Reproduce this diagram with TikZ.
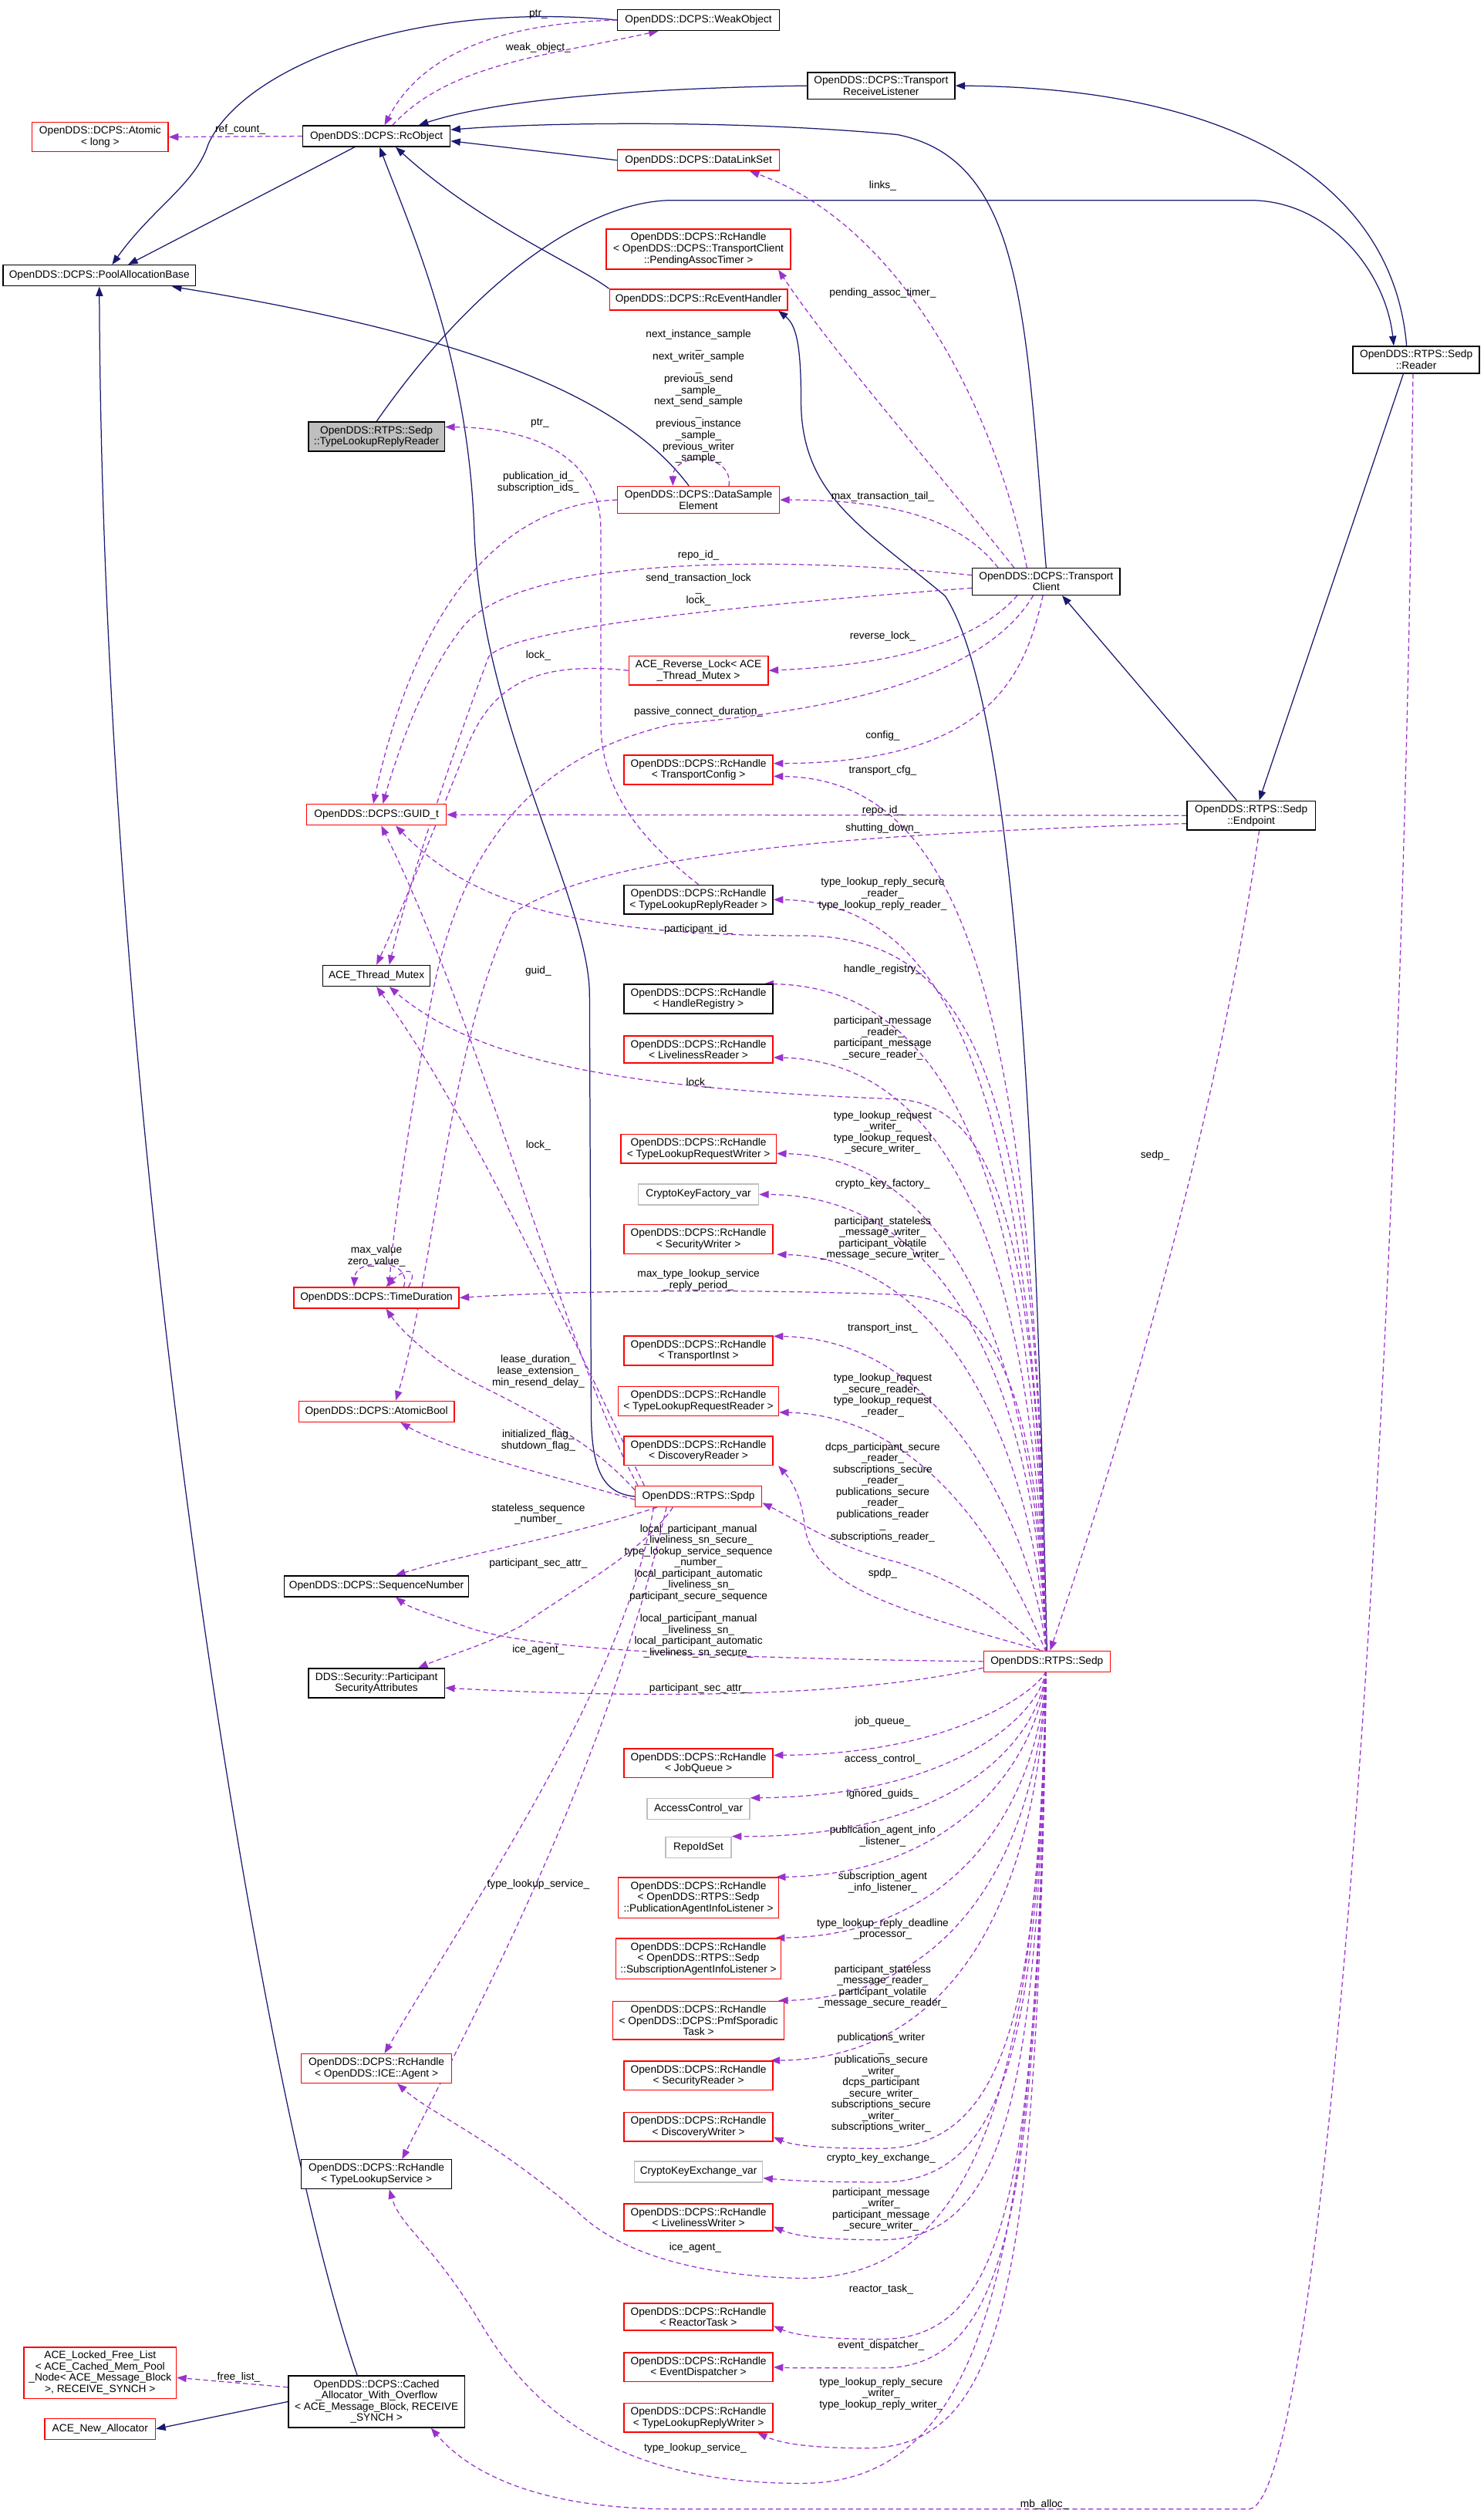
\documentclass[tikz,border=0pt]{standalone}
\usepackage{fontspec}
\setmainfont{Liberation Sans}
\usetikzlibrary{arrows.meta,calc,backgrounds}
\definecolor{navy}{RGB}{25,25,112}
\definecolor{orch}{RGB}{153,50,204}
\definecolor{lgray}{RGB}{191,191,191}
\newcommand\fnt{\fontsize{6.6}{7}\selectfont}
\tikzset{
 cls/.style={draw=black,line width=0.7pt,fill=white,align=center,inner xsep=2.5pt,inner ysep=2.5pt,minimum height=13pt,font=\fnt},
 rcls/.style={cls,draw=red},
 gcls/.style={cls,draw=lgray},
 inh/.style={navy,line width=0.6pt,-{Triangle[length=6pt,width=4.5pt]}},
 dep/.style={orch,line width=0.6pt,dash pattern=on 3pt off 2pt,-{Triangle[length=6pt,width=4.5pt]}},
 lbl/.style={align=center,font=\fnt,inner sep=0pt},
}
\newcommand\fanup[2]{\draw[dep] (653,-1031) .. controls (648,{-(#1)-140}) and (600,{-(#1)-2}) .. (#2);}
\newcommand\fandown[3]{\draw[dep] (653,-1043) .. controls (648,{-(#1)+#3}) and (595,{-(#1)}) .. (#2);}
\begin{document}
\begin{tikzpicture}[x=1pt,y=1pt]
\useasboundingbox (0,0) rectangle (926,-1571);
% nodes
\node[cls,minimum width=101pt] (weak) at (436,-12.5) {OpenDDS::DCPS::WeakObject};
\node[cls,minimum width=92pt] (trl) at (550,-53.5) {OpenDDS::DCPS::Transport\\ReceiveListener};
\node[rcls,minimum width=85pt] (atomic) at (62.5,-85.5) {OpenDDS::DCPS::Atomic\\< long >};
\node[cls,minimum width=92pt] (rcobj) at (235,-85) {OpenDDS::DCPS::RcObject};
\node[rcls,minimum width=101pt] (dls) at (436,-100) {OpenDDS::DCPS::DataLinkSet};
\node[cls,minimum width=120pt] (pab) at (62,-172) {OpenDDS::DCPS::PoolAllocationBase};
\node[rcls,minimum width=115pt] (pat) at (436,-155.5) {OpenDDS::DCPS::RcHandle\\< OpenDDS::DCPS::TransportClient\\::PendingAssocTimer >};
\node[rcls,minimum width=111pt] (reh) at (436,-187) {OpenDDS::DCPS::RcEventHandler};
\node[cls,minimum width=79pt] (reader) at (884,-224.5) {OpenDDS::RTPS::Sedp\\::Reader};
\node[cls,fill=lgray,minimum width=85pt] (tlrr) at (235,-272.5) {OpenDDS::RTPS::Sedp\\::TypeLookupReplyReader};
\node[rcls,minimum width=101pt] (dse) at (436,-312) {OpenDDS::DCPS::DataSample\\Element};
\node[cls,minimum width=92pt] (tclient) at (653,-363) {OpenDDS::DCPS::Transport\\Client};
\node[rcls,minimum width=87pt] (reverse) at (436,-418.5) {ACE\_Reverse\_Lock< ACE\\\_Thread\_Mutex >};
\node[rcls,minimum width=93pt] (tconfig) at (436,-480.5) {OpenDDS::DCPS::RcHandle\\< TransportConfig >};
\node[rcls,minimum width=87pt] (guid) at (235,-508.5) {OpenDDS::DCPS::GUID\_t};
\node[cls,minimum width=80pt] (endpoint) at (781,-509) {OpenDDS::RTPS::Sedp\\::Endpoint};
\node[cls,minimum width=93pt] (tlrrh) at (436,-561.5) {OpenDDS::DCPS::RcHandle\\< TypeLookupReplyReader >};
\node[cls,minimum width=67pt] (mutex) at (235,-609) {ACE\_Thread\_Mutex};
\node[cls,minimum width=93pt] (handlereg) at (436,-623.5) {OpenDDS::DCPS::RcHandle\\< HandleRegistry >};
\node[rcls,minimum width=93pt] (livreader) at (436,-655) {OpenDDS::DCPS::RcHandle\\< LivelinessReader >};
\node[rcls,minimum width=97pt] (tlreqwriter) at (436,-717) {OpenDDS::DCPS::RcHandle\\< TypeLookupRequestWriter >};
\node[gcls,minimum width=75pt] (cryptofactory) at (436,-745.5) {CryptoKeyFactory\_var};
\node[rcls,minimum width=93pt] (secwriter) at (436,-773.5) {OpenDDS::DCPS::RcHandle\\< SecurityWriter >};
\node[rcls,minimum width=103pt] (timedur) at (235,-810) {OpenDDS::DCPS::TimeDuration};
\node[rcls,minimum width=93pt] (tinst) at (436,-843) {OpenDDS::DCPS::RcHandle\\< TransportInst >};
\node[rcls,minimum width=100pt] (tlreqreader) at (436,-874.5) {OpenDDS::DCPS::RcHandle\\< TypeLookupRequestReader >};
\node[rcls,minimum width=97pt] (atomicbool) at (235,-881) {OpenDDS::DCPS::AtomicBool};
\node[rcls,minimum width=93pt] (discreader) at (436,-905.5) {OpenDDS::DCPS::RcHandle\\< DiscoveryReader >};
\node[rcls,minimum width=79pt] (spdp) at (436,-934) {OpenDDS::RTPS::Spdp};
\node[cls,minimum width=115pt] (seqnum) at (235,-990) {OpenDDS::DCPS::SequenceNumber};
\node[cls,minimum width=85pt] (psa) at (235,-1050.5) {DDS::Security::Participant\\SecurityAttributes};
\node[rcls,minimum width=79pt] (sedp) at (653.5,-1037) {OpenDDS::RTPS::Sedp};
\node[rcls,minimum width=93pt] (jobqueue) at (436,-1100.5) {OpenDDS::DCPS::RcHandle\\< JobQueue >};
\node[gcls,minimum width=64pt] (accessctl) at (436,-1129) {AccessControl\_var};
\node[gcls,minimum width=41pt] (repoidset) at (436,-1153) {RepoIdSet};
\node[rcls,minimum width=100pt] (pubagent) at (436,-1184.5) {OpenDDS::DCPS::RcHandle\\< OpenDDS::RTPS::Sedp\\::PublicationAgentInfoListener >};
\node[rcls,minimum width=103pt] (subagent) at (436,-1222.5) {OpenDDS::DCPS::RcHandle\\< OpenDDS::RTPS::Sedp\\::SubscriptionAgentInfoListener >};
\node[rcls,minimum width=107pt] (pmf) at (436,-1261) {OpenDDS::DCPS::RcHandle\\< OpenDDS::DCPS::PmfSporadic\\Task >};
\node[rcls,minimum width=93pt] (secreader) at (436,-1295.5) {OpenDDS::DCPS::RcHandle\\< SecurityReader >};
\node[rcls,minimum width=93pt] (discwriter) at (436,-1327.5) {OpenDDS::DCPS::RcHandle\\< DiscoveryWriter >};
\node[gcls,minimum width=80pt] (cryptoex) at (436,-1355.5) {CryptoKeyExchange\_var};
\node[rcls,minimum width=93pt] (livwriter) at (436,-1384) {OpenDDS::DCPS::RcHandle\\< LivelinessWriter >};
\node[rcls,minimum width=93pt] (reactor) at (436,-1446) {OpenDDS::DCPS::RcHandle\\< ReactorTask >};
\node[rcls,minimum width=93pt] (eventdisp) at (436,-1477.5) {OpenDDS::DCPS::RcHandle\\< EventDispatcher >};
\node[rcls,minimum width=93pt] (tlreplywriter) at (436,-1509) {OpenDDS::DCPS::RcHandle\\< TypeLookupReplyWriter >};
\node[rcls,minimum width=94pt] (ice) at (235,-1291) {OpenDDS::DCPS::RcHandle\\< OpenDDS::ICE::Agent >};
\node[cls,minimum width=94pt] (tls) at (235,-1357) {OpenDDS::DCPS::RcHandle\\< TypeLookupService >};
\node[rcls,minimum width=95pt] (freelist) at (62.5,-1481) {ACE\_Locked\_Free\_List\\< ACE\_Cached\_Mem\_Pool\\\_Node< ACE\_Message\_Block\\>, RECEIVE\_SYNCH >};
\node[rcls,minimum width=69pt] (newalloc) at (62.5,-1516) {ACE\_New\_Allocator};
\node[cls,minimum width=110pt] (cached) at (235,-1499) {OpenDDS::DCPS::Cached\\\_Allocator\_With\_Overflow\\< ACE\_Message\_Block, RECEIVE\\\_SYNCH >};

\begin{pgfonlayer}{background}
% inheritance
\draw[inh] (weak.west) .. controls (250,0) and (150,-45) .. (130,-90) .. controls (122,-115) and (95,-130) .. ($(pab.north)+(8,0)$);
\draw[inh] (222,-91.5) -- ($(pab.north)+(18,0)$);
\draw[inh] (trl.west) .. controls (400,-55) and (310,-62) .. ($(rcobj.north east)+(-20,0)$);
\draw[inh] (tclient.north) .. controls (640,-200) and (640,-100) .. (560,-84) .. controls (450,-74) and (330,-77) .. ($(rcobj.east)+(0,4)$);
\draw[inh] (dls.west) -- ($(rcobj.east)+(0,-3)$);
\draw[inh] (reh.north west) .. controls (360,-165) and (300,-140) .. ($(rcobj.south)+(12,0)$);
\draw[inh] (tlrr.north) .. controls (300,-170) and (370,-125) .. (420,-125) -- (780,-125) .. controls (830,-125) and (865,-170) .. ($(reader.north)+(-14,0)$);
\draw[inh] ($(reader.north)+(-6,0)$) .. controls (870,-120) and (780,-55) .. (trl.east);
\draw[inh] ($(dse.north)+(-6,0)$) .. controls (390,-250) and (300,-210) .. ($(pab.south east)+(-15,0)$);
\draw[inh] (spdp.west) .. controls (375,-932) and (369,-915) .. (369,-880) -- (368,-620) .. controls (367,-560) and (300,-450) .. (296,-330) .. controls (292,-220) and (255,-140) .. ($(rcobj.south)+(2,0)$);
\draw[inh] (sedp.north) .. controls (648,-800) and (640,-450) .. (590,-372) .. controls (540,-330) and (500,-310) .. (500,-250) .. controls (500,-215) and (497,-203) .. ($(reh.south east)+(-6,0)$);
\draw[inh] ($(endpoint.north)+(-9,0)$) -- ($(tclient.south)+(10,0)$);
\draw[inh] ($(reader.south)+(-8,0)$) -- ($(endpoint.north)+(5,0)$);
\draw[inh] ($(cached.north)+(-12,0)$) .. controls (160,-1300) and (64,-700) .. (pab.south);
\draw[inh] (cached.west) -- (newalloc.east);

% usage
\draw[dep] ($(rcobj.north)+(10,0)$) .. controls (280,-40) and (340,-35) .. ($(weak.south)+(-25,0)$);
\draw[dep] (weak.west) .. controls (300,-15) and (260,-40) .. ($(rcobj.north)+(5,0)$);
\draw[dep] (rcobj.west) -- (atomic.east);
\draw[dep] ($(tclient.north)+(-12,0)$) .. controls (620,-250) and (560,-140) .. ($(dls.south)+(32,0)$);
\draw[dep] ($(tclient.north)+(-20,0)$) .. controls (590,-300) and (520,-220) .. ($(pat.south east)+(-8,0)$);
\draw[dep] ($(dse.north)+(19,0)$) .. controls (458,-282) and (420,-282) .. ($(dse.north)+(-16,0)$);
\draw[dep] ($(tclient.north)+(-30,0)$) .. controls (600,-325) and (560,-312) .. (dse.east);
\draw[dep] (dse.west) .. controls (300,-315) and (255,-400) .. ($(guid.north)+(-2,0)$);
\draw[dep] ($(tclient.west)+(0,4)$) .. controls (500,-348) and (330,-345) .. (290,-390) .. controls (265,-420) and (248,-470) .. ($(guid.north)+(4,0)$);
\draw[dep] ($(tclient.west)+(0,-4)$) .. controls (500,-375) and (320,-390) .. (305,-410) .. controls (290,-450) and (258,-540) .. ($(mutex.north)+(8,0)$);
\draw[dep] (reverse.west) .. controls (330,-412) and (305,-430) .. (290,-470) .. controls (270,-520) and (250,-570) .. (mutex.north);
\draw[dep] ($(tclient.south)+(-18,0)$) .. controls (610,-400) and (560,-415) .. (reverse.east);
\draw[dep] ($(tclient.south)+(-8,0)$) .. controls (610,-430) and (500,-445) .. (420,-452) .. controls (340,-470) and (290,-520) .. (270,-620) .. controls (255,-700) and (245,-770) .. ($(timedur.north)+(8,0)$);
\draw[dep] ($(tclient.south)+(-2,0)$) .. controls (640,-420) and (620,-476) .. ($(tconfig.east)+(0,4)$);
\fanup{484}{$(tconfig.east)+(0,-4)$}
\draw[dep] (endpoint.west) -- (guid.east);
\draw[dep] ($(endpoint.west)+(0,-5)$) .. controls (550,-520) and (380,-530) .. (320,-570) .. controls (280,-650) and (270,-800) .. ($(atomicbool.north)+(12,0)$);
\draw[dep] (tlrrh.north) .. controls (395,-520) and (375,-490) .. (375,-450) -- (375,-330) .. controls (375,-290) and (340,-267) .. ($(tlrr.east)+(0,6)$);
\fanup{561}{tlrrh.east}
\draw[dep] (653,-1031) .. controls (648,-700) and (620,-584) .. (500,-584) .. controls (350,-584) and (290,-560) .. ($(guid.south)+(12,0)$);
\draw[dep] ($(spdp.north west)+(2,0)$) .. controls (355,-850) and (300,-640) .. ($(guid.south)+(3,0)$);
\fanup{614}{$(handlereg.north east)+(-6,0)$}
\fanup{661}{$(livreader.east)+(0,-5)$}
\draw[dep] (653,-1031) .. controls (648,-760) and (620,-690) .. (560,-686) .. controls (400,-680) and (300,-665) .. ($(mutex.south)+(8,0)$);
\draw[dep] ($(spdp.north west)+(6,0)$) .. controls (350,-820) and (290,-690) .. (mutex.south);
\fanup{720}{$(tlreqwriter.east)+(0,-3)$}
\fanup{744}{cryptofactory.east}
\fanup{784}{$(secwriter.south east)+(2,0)$}
\draw[dep] ($(timedur.north)+(17,0)$) .. controls (258,-785) and (222,-785) .. ($(timedur.north)+(-14,0)$);
\draw[dep] ($(timedur.north)+(20,0)$) .. controls (262,-790) and (252,-792) .. ($(timedur.north)+(6,0)$);
\draw[dep] (653,-1031) .. controls (648,-860) and (620,-810) .. (560,-808) .. controls (450,-804) and (350,-806) .. (timedur.east);
\draw[dep] ($(spdp.west)+(0,4)$) .. controls (370,-900) and (330,-880) .. (300,-865) .. controls (270,-850) and (250,-830) .. ($(timedur.south)+(6,0)$);
\fanup{834}{$(tinst.east)+(0,9)$}
\fanup{882}{$(tlreqreader.east)+(0,-7)$}
\draw[dep] ($(spdp.west)+(0,-2)$) .. controls (340,-920) and (280,-905) .. ($(atomicbool.south)+(15,0)$);
\draw[dep] (653,-1031) .. controls (560,-1005) and (505,-990) .. (502,-950) .. controls (500,-935) and (495,-925) .. ($(discreader.south east)+(3,0)$);
\draw[dep] (650,-1031) .. controls (615,-995) and (590,-985) .. (560,-975) .. controls (520,-965) and (500,-950) .. ($(spdp.east)+(0,-4)$);
\draw[dep] ($(spdp.south)+(-26,0)$) .. controls (350,-960) and (290,-970) .. ($(seqnum.north)+(12,0)$);
\draw[dep] (sedp.west) .. controls (450,-1035) and (330,-1030) .. (290,-1015) .. controls (270,-1008) and (255,-1003) .. ($(seqnum.south)+(12,0)$);
\draw[dep] ($(spdp.south)+(-16,0)$) .. controls (400,-970) and (360,-990) .. (325,-1015) .. controls (300,-1028) and (280,-1033) .. ($(psa.north)+(26,0)$);
\draw[dep] ($(sedp.west)+(0,-4)$) .. controls (530,-1060) and (400,-1060) .. ($(psa.east)+(0,-3)$);
\draw[dep] ($(spdp.south)+(-28,0)$) .. controls (390,-1050) and (300,-1180) .. ($(ice.north)+(5,0)$);
\draw[dep] ($(spdp.south)+(-20,0)$) .. controls (380,-1100) and (300,-1250) .. ($(tls.north)+(16,0)$);
\fandown{1095}{$(jobqueue.east)+(0,5)$}{40}
\fandown{1121}{accessctl.north east}{50}
\fandown{1147}{repoidset.north east}{60}
\fandown{1170}{$(pubagent.north east)+(-2,0)$}{70}
\fandown{1208}{$(subagent.north east)+(-4,0)$}{80}
\fandown{1246}{$(pmf.north east)+(-4,0)$}{90}
\fandown{1285}{$(secreader.north east)+(-2,0)$}{100}
\draw[dep] (653,-1043) .. controls (648,-1250) and (630,-1340) .. (550,-1341) .. controls (510,-1341) and (495,-1339) .. ($(discwriter.south east)+(0,3)$);
\draw[dep] (653,-1043) .. controls (648,-1270) and (630,-1362) .. (550,-1362) .. controls (510,-1362) and (495,-1361) .. ($(cryptoex.east)+(0,-4)$);
\draw[dep] (653,-1043) .. controls (648,-1300) and (630,-1398) .. (550,-1398) .. controls (510,-1398) and (495,-1395) .. ($(livwriter.south east)+(0,3)$);
\draw[dep] (653,-1043) .. controls (648,-1360) and (630,-1460) .. (550,-1460) .. controls (510,-1460) and (495,-1457) .. ($(reactor.south east)+(0,3)$);
\draw[dep] (653,-1043) .. controls (648,-1380) and (630,-1478) .. (550,-1478) .. controls (510,-1478) and (495,-1478) .. (eventdisp.east);
\draw[dep] (653,-1043) .. controls (648,-1420) and (630,-1528) .. (540,-1528) .. controls (500,-1528) and (485,-1524) .. ($(tlreplywriter.south east)+(-10,0)$);
\draw[dep] (653,-1043) .. controls (648,-1300) and (610,-1422) .. (500,-1422) .. controls (420,-1420) and (380,-1400) .. (360,-1380) .. controls (300,-1330) and (270,-1320) .. ($(ice.south)+(13,0)$);
\draw[dep] (653,-1043) .. controls (648,-1400) and (620,-1550) .. (500,-1550) .. controls (380,-1550) and (330,-1500) .. (300,-1450) .. controls (270,-1400) and (250,-1390) .. ($(tls.south)+(8,0)$);
\draw[dep] ($(reader.south)+(-2,0)$) .. controls (875,-900) and (825,-1560) .. (780,-1566) -- (420,-1566) .. controls (330,-1566) and (290,-1540) .. ($(cached.south)+(34,0)$);
\draw[dep] ($(cached.west)+(0,9)$) -- ($(freelist.east)+(0,-3)$);
\draw[dep] ($(endpoint.south)+(5,0)$) .. controls (760,-700) and (700,-900) .. ($(sedp.north)+(2,0)$);
\end{pgfonlayer}

% labels
\node[lbl] at (336,-9) {ptr\_};
\node[lbl] at (336,-30) {weak\_object\_};
\node[lbl] at (150,-81) {ref\_count\_};
\node[lbl] at (551,-116) {links\_};
\node[lbl] at (551,-183) {pending\_assoc\_timer\_};
\node[lbl] at (436,-247.5) {next\_instance\_sample\\\_\\next\_writer\_sample\\\_\\previous\_send\\\_sample\_\\next\_send\_sample\\\_\\previous\_instance\\\_sample\_\\previous\_writer\\\_sample\_};
\node[lbl] at (337,-264) {ptr\_};
\node[lbl] at (336,-301) {publication\_id\_\\subscription\_ids\_};
\node[lbl] at (551,-310) {max\_transaction\_tail\_};
\node[lbl] at (436,-346.5) {repo\_id\_};
\node[lbl] at (436,-368) {send\_transaction\_lock\\\_\\lock\_};
\node[lbl] at (551,-397) {reverse\_lock\_};
\node[lbl] at (336,-409) {lock\_};
\node[lbl] at (436,-444.5) {passive\_connect\_duration\_};
\node[lbl] at (551,-459.5) {config\_};
\node[lbl] at (551,-481) {transport\_cfg\_};
\node[lbl] at (551,-506) {repo\_id\_};
\node[lbl] at (551,-517) {shutting\_down\_};
\node[lbl] at (551,-558) {type\_lookup\_reply\_secure\\\_reader\_\\type\_lookup\_reply\_reader\_};
\node[lbl] at (436,-580) {participant\_id\_};
\node[lbl] at (551,-605) {handle\_registry\_};
\node[lbl] at (336,-606) {guid\_};
\node[lbl] at (551,-648) {participant\_message\\\_reader\_\\participant\_message\\\_secure\_reader\_};
\node[lbl] at (436,-676) {lock\_};
\node[lbl] at (551,-707) {type\_lookup\_request\\\_writer\_\\type\_lookup\_request\\\_secure\_writer\_};
\node[lbl] at (336,-715) {lock\_};
\node[lbl] at (551,-739) {crypto\_key\_factory\_};
\node[lbl] at (551,-773) {participant\_stateless\\\_message\_writer\_\\participant\_volatile\\\_message\_secure\_writer\_};
\node[lbl] at (235,-784) {max\_value\\zero\_value\_};
\node[lbl] at (436,-799) {max\_type\_lookup\_service\\\_reply\_period\_};
\node[lbl] at (551,-829) {transport\_inst\_};
\node[lbl] at (336,-856) {lease\_duration\_\\lease\_extension\_\\min\_resend\_delay\_};
\node[lbl] at (551,-871) {type\_lookup\_request\\\_secure\_reader\_\\type\_lookup\_request\\\_reader\_};
\node[lbl] at (336,-899) {initialized\_flag\_\\shutdown\_flag\_};
\node[lbl] at (551,-931.5) {dcps\_participant\_secure\\\_reader\_\\subscriptions\_secure\\\_reader\_\\publications\_secure\\\_reader\_\\publications\_reader\\\_\\subscriptions\_reader\_};
\node[lbl] at (336,-945) {stateless\_sequence\\\_number\_};
\node[lbl] at (336,-976) {participant\_sec\_attr\_};
\node[lbl] at (436,-993) {local\_participant\_manual\\\_liveliness\_sn\_secure\_\\type\_lookup\_service\_sequence\\\_number\_\\local\_participant\_automatic\\\_liveliness\_sn\_\\participant\_secure\_sequence\\\_\\local\_participant\_manual\\\_liveliness\_sn\_\\local\_participant\_automatic\\\_liveliness\_sn\_secure\_};
\node[lbl] at (551,-982) {spdp\_};
\node[lbl] at (336,-1030) {ice\_agent\_};
\node[lbl] at (436,-1054) {participant\_sec\_attr\_};
\node[lbl] at (721,-721) {sedp\_};
\node[lbl] at (551,-1074.5) {job\_queue\_};
\node[lbl] at (551,-1098) {access\_control\_};
\node[lbl] at (551,-1120) {ignored\_guids\_};
\node[lbl] at (551,-1146) {publication\_agent\_info\\\_listener\_};
\node[lbl] at (551,-1175) {subscription\_agent\\\_info\_listener\_};
\node[lbl] at (551,-1204) {type\_lookup\_reply\_deadline\\\_processor\_};
\node[lbl] at (551,-1240) {participant\_stateless\\\_message\_reader\_\\participant\_volatile\\\_message\_secure\_reader\_};
\node[lbl] at (336,-1176) {type\_lookup\_service\_};
\node[lbl] at (550,-1300) {publications\_writer\\\_\\publications\_secure\\\_writer\_\\dcps\_participant\\\_secure\_writer\_\\subscriptions\_secure\\\_writer\_\\subscriptions\_writer\_};
\node[lbl] at (550,-1347) {crypto\_key\_exchange\_};
\node[lbl] at (550,-1379) {participant\_message\\\_writer\_\\participant\_message\\\_secure\_writer\_};
\node[lbl] at (434,-1403) {ice\_agent\_};
\node[lbl] at (550,-1429) {reactor\_task\_};
\node[lbl] at (550,-1464) {event\_dispatcher\_};
\node[lbl] at (550,-1494) {type\_lookup\_reply\_secure\\\_writer\_\\type\_lookup\_reply\_writer\_};
\node[lbl] at (434,-1528) {type\_lookup\_service\_};
\node[lbl] at (149,-1484) {free\_list\_};
\node[lbl] at (652,-1563) {mb\_alloc\_};
\end{tikzpicture}
\end{document}
